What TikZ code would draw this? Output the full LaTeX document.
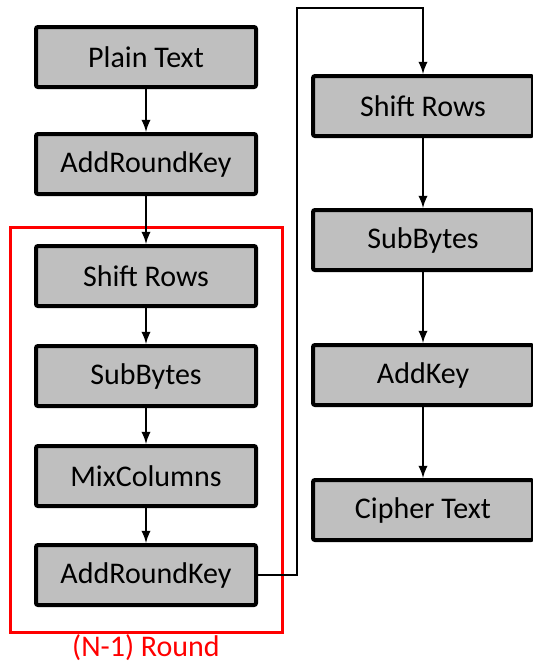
\documentclass[tikz,border=0pt]{standalone}
\usepackage{fontspec}
\setmainfont{Carlito}
\usetikzlibrary{arrows}

\tikzset{
    stage/.style={draw=black, fill=black!25, line width=2pt, rounded corners=1pt,
        minimum width=110pt, minimum height=30pt, inner sep=0pt,
        font=\fontsize{15}{18}\selectfont},
    flow/.style={-latex, line width=1.1pt}
}

\begin{document}
\begin{tikzpicture}[x=0.5pt,y=-0.5pt]
    \useasboundingbox (0,0) rectangle (532,665);
    % left column
    \node[stage] (plain) at (146,57) {Plain Text};
    \node[stage] (ark0) at (146,164) {AddRoundKey};
    \node[stage] (shift) at (146,276) {Shift Rows};
    \node[stage] (sub) at (146,376) {SubBytes};
    \node[stage] (mix) at (146,476) {MixColumns};
    \node[stage] (ark) at (146,575) {AddRoundKey};
    % round frame
    \draw[red, line width=1.5pt] (10,227) rectangle (282,632);
    \node[red, font=\fontsize{15}{18}\selectfont] (round) at (146,648) {(N-1) Round};
    % right column
    \node[stage] (lshift) at (423,106) {Shift Rows};
    \node[stage] (lsub) at (423,240) {SubBytes};
    \node[stage] (addkey) at (423,375) {AddKey};
    \node[stage] (cipher) at (423,510) {Cipher Text};
    % connectors
    \draw[flow] (plain) -- (ark0);
    \draw[flow] (ark0) -- (shift);
    \draw[flow] (shift) -- (sub);
    \draw[flow] (sub) -- (mix);
    \draw[flow] (mix) -- (ark);
    \coordinate (up) at (297,8);
    \draw[flow] (ark.east) -| (up) -| (lshift.north);
    \draw[flow] (lshift) -- (lsub);
    \draw[flow] (lsub) -- (addkey);
    \draw[flow] (addkey) -- (cipher);
\end{tikzpicture}
\end{document}
